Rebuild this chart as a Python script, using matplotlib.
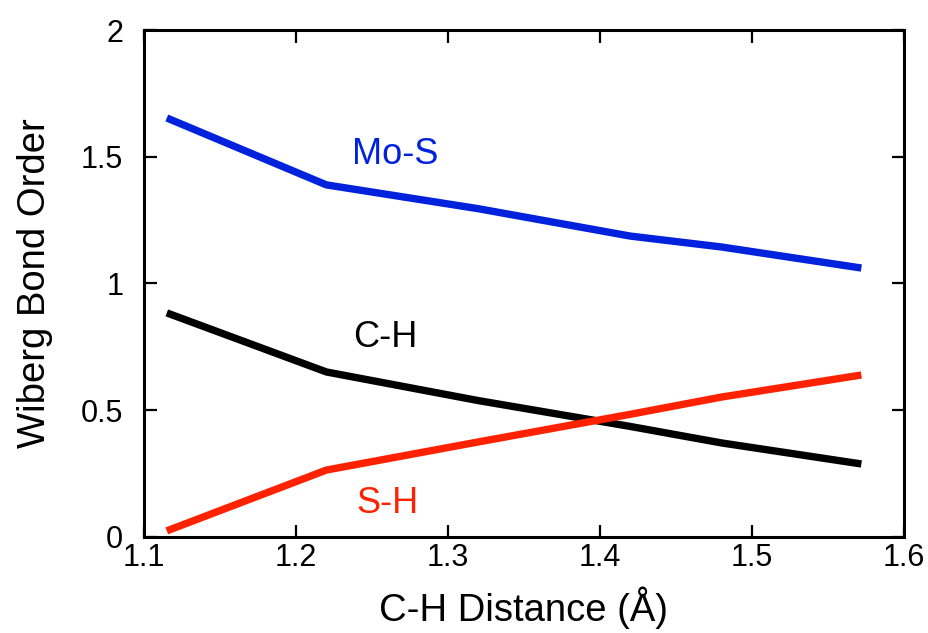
import matplotlib.pyplot as plt

plt.rcParams['font.family'] = ['Liberation Sans', 'DejaVu Sans']

# C-H distance (Å) at each computed point
distance = [1.115, 1.22, 1.32, 1.42, 1.48, 1.572]

# Wiberg bond orders
mo_s = [1.653, 1.389, 1.295, 1.187, 1.144, 1.061]
c_h = [0.884, 0.651, 0.538, 0.436, 0.371, 0.288]
s_h = [0.024, 0.264, 0.375, 0.484, 0.552, 0.639]

blue = "#0022dd"
red = "#ff2200"

fig = plt.figure(figsize=(9.29, 6.33), dpi=100)
ax = fig.add_axes([0.155, 0.1517, 0.818, 0.8009])

ax.plot(distance, mo_s, color=blue, lw=5.3, solid_capstyle="butt")
ax.plot(distance, c_h, color="black", lw=5.3, solid_capstyle="butt")
ax.plot(distance, s_h, color=red, lw=5.3, solid_capstyle="butt")

ax.text(1.265, 1.51, "Mo-S", color=blue, fontsize=26, ha="center", va="center")
ax.text(1.259, 0.785, "C-H", color="black", fontsize=26, ha="center", va="center")
ax.text(1.26, 0.134, "S-H", color=red, fontsize=26, ha="center", va="center")

ax.set_xlim(1.1, 1.6)
ax.set_ylim(0, 2)
ax.set_xticks([1.1, 1.2, 1.3, 1.4, 1.5, 1.6])
ax.set_xticklabels(["1.1", "1.2", "1.3", "1.4", "1.5", "1.6"])
ax.set_yticks([0, 0.5, 1, 1.5, 2])
ax.set_yticklabels(["0", "0.5", "1", "1.5", "2"])

ax.tick_params(direction="in", length=9, width=1.6, labelsize=22,
               top=True, right=True)
ax.tick_params(axis="x", pad=4)
ax.tick_params(axis="y", pad=15)
for s in ax.spines.values():
    s.set_linewidth(2.2)

ax.set_xlabel("C-H Distance (Å)", fontsize=27.5, labelpad=10)
ax.set_ylabel("Wiberg Bond Order", fontsize=27.5, labelpad=20)

fig.savefig("out.png", dpi=100)
